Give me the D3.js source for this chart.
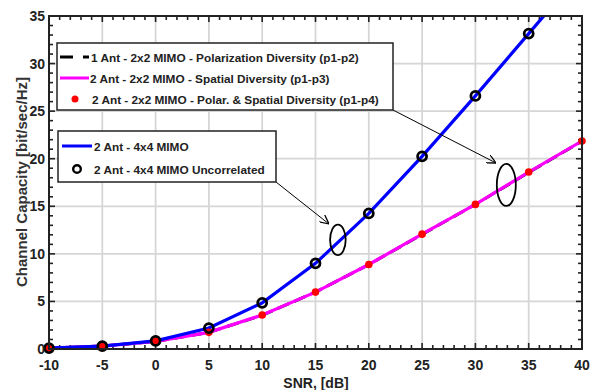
<!DOCTYPE html>
<html>
<head>
<meta charset="utf-8">
<script src="https://cdn.jsdelivr.net/npm/d3@7.9.0/dist/d3.min.js"></script>
<style>
  body { margin: 0; background: #fff; }
  svg { font-family: "Liberation Sans", Arial, sans-serif; }
</style>
</head>
<body>
<svg id="chart" width="590" height="390"></svg>
<script>
// SNR points (dB)
const snr = [-10, -5, 0, 5, 10, 15, 20, 25, 30, 35, 40];
// capacity values
const cap2x2Pol = [0.1, 0.3, 0.8, 1.75, 3.55, 5.98, 8.87, 12.05, 15.2, 18.55, 21.85];
const cap2x2Spatial = [0.1, 0.3, 0.8, 1.75, 3.57, 5.98, 8.88, 12.07, 15.2, 18.6, 21.86];
const cap2x2Both = [0.1, 0.3, 0.8, 1.75, 3.57, 5.98, 8.88, 12.07, 15.2, 18.6, 21.86];
const cap4x4 = [0.1, 0.3, 0.85, 2.2, 4.85, 9.0, 14.25, 20.25, 26.6, 33.15, 39.7];
const cap4x4Unc = [0.1, 0.3, 0.85, 2.2, 4.85, 9.0, 14.25, 20.25, 26.6, 33.15, 39.7];
const xTicks = [-10, -5, 0, 5, 10, 15, 20, 25, 30, 35, 40];
const yTicks = [0, 5, 10, 15, 20, 25, 30, 35];

const svg = d3.select('#chart');
const pL = 49, pR = 582, pT = 16, pB = 349;

const x = d3.scaleLinear().domain([-10, 40]).range([pL, pR]);
const y = d3.scaleLinear().domain([0, 35]).range([pB, pT]);

// grid
svg.append('g').selectAll('line').data(xTicks.slice(1, -1)).join('line')
  .attr('x1', d => x(d)).attr('x2', d => x(d)).attr('y1', pT).attr('y2', pB)
  .attr('stroke', '#d6d6d6').attr('stroke-width', 1.8);
svg.append('g').selectAll('line').data(yTicks.slice(1, -1)).join('line')
  .attr('y1', d => y(d)).attr('y2', d => y(d)).attr('x1', pL).attr('x2', pR)
  .attr('stroke', '#d6d6d6').attr('stroke-width', 1.8);

// minor/major ticks on all four sides, pointing inward
const xMinor = d3.range(-10, 41, 1);
const yMinor = d3.range(0, 36, 1);
const tickLen = d => (d % 5 === 0 ? 6 : 4);
const tg = svg.append('g').attr('stroke', '#222').attr('stroke-width', 1.6);
xMinor.forEach(d => {
  tg.append('line').attr('x1', x(d)).attr('x2', x(d)).attr('y1', pB).attr('y2', pB - tickLen(d));
  tg.append('line').attr('x1', x(d)).attr('x2', x(d)).attr('y1', pT).attr('y2', pT + tickLen(d));
});
yMinor.forEach(d => {
  tg.append('line').attr('y1', y(d)).attr('y2', y(d)).attr('x1', pL).attr('x2', pL + tickLen(d));
  tg.append('line').attr('y1', y(d)).attr('y2', y(d)).attr('x1', pR).attr('x2', pR - tickLen(d));
});

// clip for lines
svg.append('clipPath').attr('id', 'clip').append('rect')
  .attr('x', pL).attr('y', pT).attr('width', pR - pL).attr('height', pB - pT);

const line = d3.line().x(d => x(d[0])).y(d => y(d[1]));
const zip = arr => snr.map((s, i) => [s, arr[i]]);

const plot = svg.append('g').attr('clip-path', 'url(#clip)');
plot.append('path').attr('d', line(zip(cap2x2Pol)))
  .attr('fill', 'none').attr('stroke', '#000').attr('stroke-width', 3).attr('stroke-dasharray', '12 6');
plot.append('path').attr('d', line(zip(cap2x2Spatial)))
  .attr('fill', 'none').attr('stroke', '#ff00ff').attr('stroke-width', 3.2);
plot.append('path').attr('d', line(zip(cap4x4)))
  .attr('fill', 'none').attr('stroke', '#0000ff').attr('stroke-width', 3.2);

// markers
svg.append('g').selectAll('circle').data(zip(cap2x2Both)).join('circle')
  .attr('cx', d => x(d[0])).attr('cy', d => y(d[1])).attr('r', 3.8).attr('fill', '#ff0000');
svg.append('g').selectAll('circle').data(zip(cap4x4Unc).filter(d => d[1] <= 35)).join('circle')
  .attr('cx', d => x(d[0])).attr('cy', d => y(d[1])).attr('r', 4.5)
  .attr('fill', 'none').attr('stroke', '#000').attr('stroke-width', 2.8);

// frame
svg.append('rect').attr('x', pL).attr('y', pT).attr('width', pR - pL).attr('height', pB - pT)
  .attr('fill', 'none').attr('stroke', '#222').attr('stroke-width', 2);

// tick labels
svg.append('g').selectAll('text').data(xTicks).join('text')
  .attr('x', d => x(d)).attr('y', pB + 21).attr('text-anchor', 'middle')
  .attr('font-size', 14).attr('font-weight', 'bold').attr('fill', '#222').text(d => d);
svg.append('g').selectAll('text').data(yTicks).join('text')
  .attr('x', pL - 4).attr('y', d => y(d) + 5).attr('text-anchor', 'end')
  .attr('font-size', 14).attr('font-weight', 'bold').attr('fill', '#222').text(d => d);

// axis titles
svg.append('text').attr('x', 316).attr('y', 388).attr('text-anchor', 'middle')
  .attr('font-size', 14).attr('font-weight', 'bold').attr('fill', '#222').text('SNR, [dB]');
svg.append('text').attr('transform', 'translate(27,182) rotate(-90)').attr('text-anchor', 'middle')
  .attr('font-size', 15).attr('font-weight', 'bold').attr('fill', '#333').text('Channel Capacity [bit/sec/Hz]');

// annotations: ellipses + arrows
svg.append('defs').append('marker').attr('id', 'arrow').attr('viewBox', '0 0 10 10')
  .attr('refX', 10).attr('refY', 5).attr('markerWidth', 9).attr('markerHeight', 9)
  .attr('orient', 'auto').attr('markerUnits', 'userSpaceOnUse')
  .append('path').attr('d', 'M0,0 L10,5 L0,10').attr('fill', 'none').attr('stroke', '#000').attr('stroke-width', 1.4);

const ellipses = [{sx: 17.1, c: 11.47, rx: 7.8, ry: 15.3}, {sx: 32.9, c: 17.24, rx: 9.5, ry: 21}];
svg.append('g').selectAll('ellipse').data(ellipses).join('ellipse')
  .attr('cx', d => x(d.sx)).attr('cy', d => y(d.c)).attr('rx', d => d.rx).attr('ry', d => d.ry)
  .attr('fill', 'none').attr('stroke', '#000').attr('stroke-width', 1.8);

svg.append('line').attr('x1', 276).attr('y1', 182).attr('x2', 329).attr('y2', 224)
  .attr('stroke', '#000').attr('stroke-width', 1).attr('marker-end', 'url(#arrow)');
svg.append('line').attr('x1', 393).attr('y1', 110).attr('x2', 496).attr('y2', 163)
  .attr('stroke', '#000').attr('stroke-width', 1).attr('marker-end', 'url(#arrow)');

// legend 1
const lg1 = svg.append('g');
lg1.append('rect').attr('x', 57).attr('y', 43).attr('width', 336).attr('height', 67)
  .attr('fill', '#fff').attr('stroke', '#222').attr('stroke-width', 1.5);
lg1.append('line').attr('x1', 60).attr('x2', 73).attr('y1', 57).attr('y2', 57).attr('stroke', '#000').attr('stroke-width', 3);
lg1.append('line').attr('x1', 83).attr('x2', 89).attr('y1', 57).attr('y2', 57).attr('stroke', '#000').attr('stroke-width', 3);
lg1.append('line').attr('x1', 60).attr('x2', 89).attr('y1', 78).attr('y2', 78).attr('stroke', '#ff00ff').attr('stroke-width', 3);
lg1.append('circle').attr('cx', 75).attr('cy', 99).attr('r', 3.5).attr('fill', '#ff0000');
const lg1Labels = [
  ['1 Ant - 2x2 MIMO - Polarization Diversity (p1-p2)', 91, 61.5],
  ['2 Ant - 2x2 MIMO - Spatial Diversity (p1-p3)', 90, 83],
  ['2 Ant - 2x2 MIMO - Polar. & Spatial Diversity (p1-p4)', 92, 103.5]
];
lg1.selectAll('text').data(lg1Labels).join('text')
  .attr('x', d => d[1]).attr('y', d => d[2]).attr('font-size', 11.8).attr('font-weight', 'bold')
  .attr('fill', '#222').text(d => d[0]);

// legend 2
const lg2 = svg.append('g');
lg2.append('rect').attr('x', 58).attr('y', 131).attr('width', 218).attr('height', 51)
  .attr('fill', '#fff').attr('stroke', '#222').attr('stroke-width', 1.5);
lg2.append('line').attr('x1', 62).attr('x2', 92).attr('y1', 146).attr('y2', 146).attr('stroke', '#0000ff').attr('stroke-width', 3);
lg2.append('circle').attr('cx', 77).attr('cy', 169).attr('r', 3.8).attr('fill', 'none').attr('stroke', '#000').attr('stroke-width', 2.4);
lg2.selectAll('text').data([['2 Ant - 4x4 MIMO', 94, 151], ['2 Ant - 4x4 MIMO Uncorrelated', 94, 174]]).join('text')
  .attr('x', d => d[1]).attr('y', d => d[2]).attr('font-size', 11.8).attr('font-weight', 'bold')
  .attr('fill', '#222').text(d => d[0]);
</script>
</body>
</html>
